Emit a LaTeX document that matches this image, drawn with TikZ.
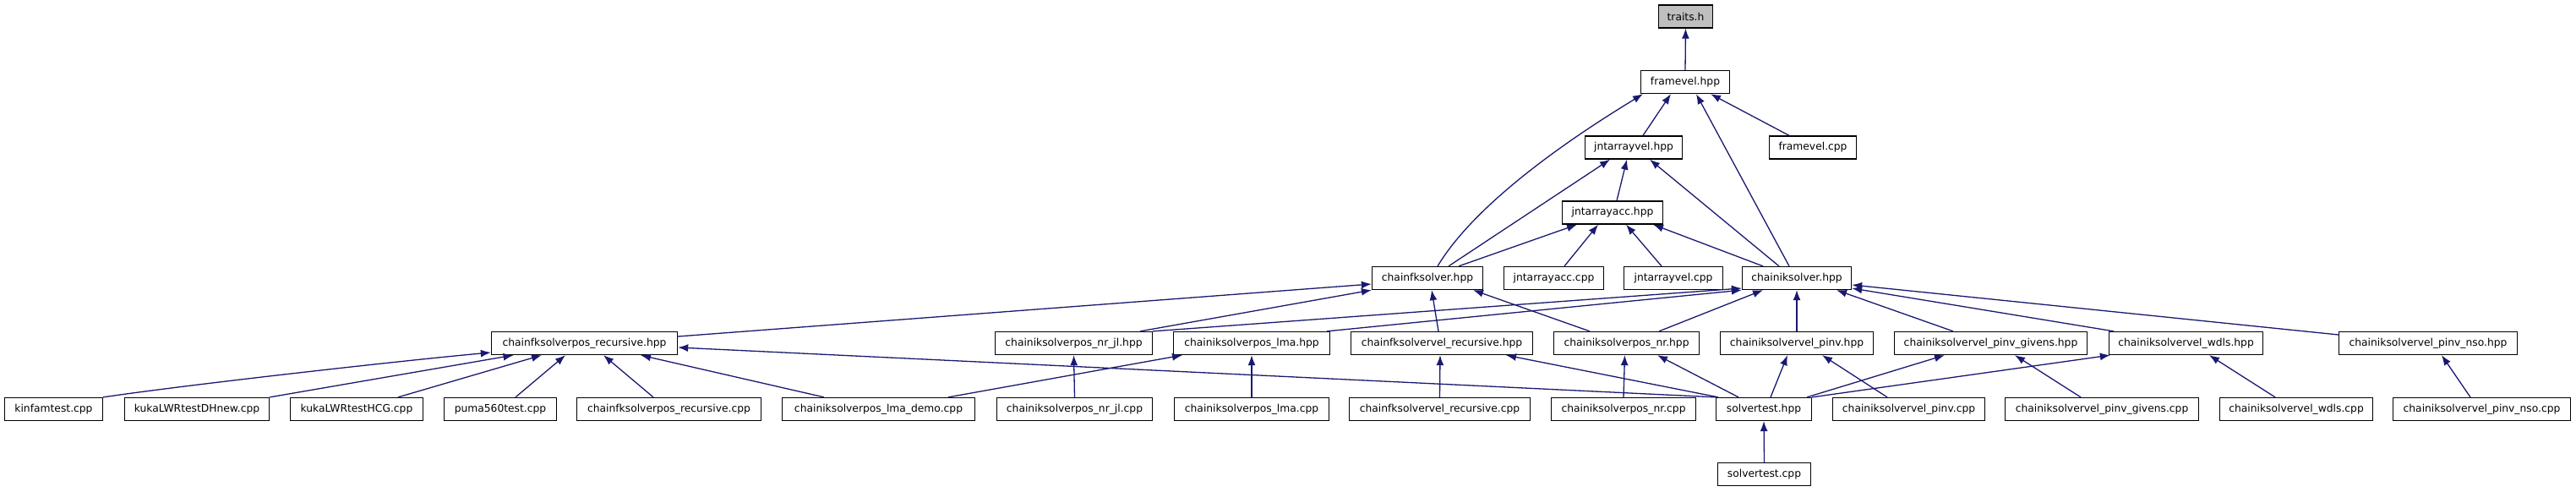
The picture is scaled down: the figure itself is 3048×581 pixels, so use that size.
\documentclass[tikz,border=0pt]{standalone}
\usepackage{fontspec}
\setmainfont{DejaVu Sans}
\usetikzlibrary{arrows.meta}
\definecolor{edgeblue}{HTML}{191970}
\definecolor{rootgray}{HTML}{BFBFBF}
\begin{document}
\begin{tikzpicture}[x=1pt,y=-1pt,
font=\fontsize{12.3}{14}\selectfont,
fileb/.style={draw=black,line width=1.3pt,fill=white,minimum height=27pt,inner xsep=2pt,inner ysep=0pt,anchor=center},
rootb/.style={fileb,fill=rootgray},
dep/.style={draw=edgeblue,line width=1.3pt,-{Latex[length=12pt,width=9pt]}}
]
\useasboundingbox (0,0) rectangle (3048,581);
%-- top of the graph
\node[rootb,minimum width=64pt](traits) at (1994.5,19.5){traits.h};
\node[fileb,minimum width=105pt](framevel) at (1994,97){framevel.hpp};
\node[fileb,minimum width=115pt](jntvel) at (1933,174.5){jntarrayvel.hpp};
\node[fileb,minimum width=103pt](framevelcpp) at (2145,174.5){framevel.cpp};
\node[fileb,minimum width=119pt](jntacc) at (1908,251.5){jntarrayacc.hpp};
%-- solvers
\node[fileb,minimum width=131pt](fksolver) at (1689,329){chainfksolver.hpp};
\node[fileb,minimum width=118pt](jntacccpp) at (1838.5,329){jntarrayacc.cpp};
\node[fileb,minimum width=117pt](jntvelcpp) at (1980,329){jntarrayvel.cpp};
\node[fileb,minimum width=129pt](iksolver) at (2126,329){chainiksolver.hpp};
%-- headers
\node[fileb,minimum width=220pt](fkposrec) at (691.5,406){chainfksolverpos\_recursive.hpp};
\node[fileb,minimum width=186pt](iknrjl) at (1270.5,406){chainiksolverpos\_nr\_jl.hpp};
\node[fileb,minimum width=185pt](iklma) at (1481,406){chainiksolverpos\_lma.hpp};
\node[fileb,minimum width=215pt](fkvelrec) at (1706,406){chainfksolvervel\_recursive.hpp};
\node[fileb,minimum width=172pt](iknr) at (1924.5,406){chainiksolverpos\_nr.hpp};
\node[fileb,minimum width=181pt](ikpinv) at (2126,406){chainiksolvervel\_pinv.hpp};
\node[fileb,minimum width=228pt](ikgivens) at (2355.5,406){chainiksolvervel\_pinv\_givens.hpp};
\node[fileb,minimum width=182pt](ikwdls) at (2586.5,406){chainiksolvervel\_wdls.hpp};
\node[fileb,minimum width=211pt](iknso) at (2873,406){chainiksolvervel\_pinv\_nso.hpp};
%-- sources
\node[fileb,minimum width=116pt](kinfam) at (63.5,484){kinfamtest.cpp};
\node[fileb,minimum width=171pt](kukadh) at (233,484){kukaLWRtestDHnew.cpp};
\node[fileb,minimum width=157pt](kukahcg) at (422,484){kukaLWRtestHCG.cpp};
\node[fileb,minimum width=133pt](puma) at (592,484){puma560test.cpp};
\node[fileb,minimum width=218pt](fkposreccpp) at (791.5,484){chainfksolverpos\_recursive.cpp};
\node[fileb,minimum width=228pt](lmademo) at (1039.5,484){chainiksolverpos\_lma\_demo.cpp};
\node[fileb,minimum width=184pt](iknrjlcpp) at (1271.5,484){chainiksolverpos\_nr\_jl.cpp};
\node[fileb,minimum width=183pt](iklmacpp) at (1481,484){chainiksolverpos\_lma.cpp};
\node[fileb,minimum width=214pt](fkvelreccpp) at (1703.5,484){chainfksolvervel\_recursive.cpp};
\node[fileb,minimum width=171pt](iknrcpp) at (1921,484){chainiksolverpos\_nr.cpp};
\node[fileb,minimum width=113pt](solvertest) at (2087,484){solvertest.hpp};
\node[fileb,minimum width=180pt](ikpinvcpp) at (2258.5,484){chainiksolvervel\_pinv.cpp};
\node[fileb,minimum width=229pt](ikgivenscpp) at (2487,484){chainiksolvervel\_pinv\_givens.cpp};
\node[fileb,minimum width=181pt](ikwdlscpp) at (2717,484){chainiksolvervel\_wdls.cpp};
\node[fileb,minimum width=210pt](iknsocpp) at (2936.5,484){chainiksolvervel\_pinv\_nso.cpp};
\node[fileb,minimum width=110pt](solvertestcpp) at (2087.5,561){solvertest.cpp};
%-- includes, upper part
\draw[dep] (framevel.north) -- (traits.south);
\draw[dep] ([xshift=11pt]jntvel.north) -- ([xshift=-17pt]framevel.south);
\draw[dep] ([xshift=12pt]fksolver.north) .. controls (1755,225) and (1904,136) .. ([xshift=-50pt]framevel.south);
\draw[dep] ([xshift=-9pt]iksolver.north) -- ([xshift=13pt]framevel.south);
\draw[dep] ([xshift=-28pt]framevelcpp.north) -- ([xshift=30pt]framevel.south);
\draw[dep] ([xshift=5pt]jntacc.north) -- ([xshift=-8pt]jntvel.south);
\draw[dep] ([xshift=25pt]fksolver.north) -- ([xshift=-28pt]jntvel.south);
\draw[dep] ([xshift=-21pt]iksolver.north) -- ([xshift=19pt]jntvel.south);
\draw[dep] ([xshift=37pt]fksolver.north) -- ([xshift=-42pt]jntacc.south);
\draw[dep] ([xshift=12.5pt]jntacccpp.north) -- ([xshift=-17pt]jntacc.south);
\draw[dep] ([xshift=-14pt]jntvelcpp.north) -- ([xshift=16pt]jntacc.south);
\draw[dep] ([xshift=-40pt]iksolver.north) -- ([xshift=48pt]jntacc.south);
%-- headers -> solvers
\draw[dep] ([yshift=8pt]fkposrec.east) -- ([yshift=-7pt]fksolver.west);
\draw[dep] ([xshift=78.5pt]iknrjl.north) -- (fksolver.south west);
\draw[dep] (iknrjl.north east) -- ([yshift=-12pt]iksolver.west);
\draw[dep] ([xshift=89pt]iklma.north) -- (iksolver.south west);
\draw[dep] ([xshift=-4pt]fkvelrec.north) -- ([xshift=5pt]fksolver.south);
\draw[dep] ([xshift=-43.5pt]iknr.north) -- ([xshift=54pt]fksolver.south);
\draw[dep] ([xshift=38.5pt]iknr.north) -- ([xshift=-40pt]iksolver.south);
\draw[dep] (ikpinv.north) -- (iksolver.south);
\draw[dep] ([xshift=-44.5pt]ikgivens.north) -- ([xshift=47pt]iksolver.south);
\draw[dep] ([xshift=-85.5pt]ikwdls.north) -- ([yshift=-12pt]iksolver.east);
\draw[dep] ([yshift=10pt]iknso.west) -- ([yshift=-8pt]iksolver.east);
%-- sources -> headers
\draw[dep] (kinfam.north east) .. controls (222,455) and (481,426) .. ([yshift=-11pt]fkposrec.west);
\draw[dep] (kukadh.north east) -- ([xshift=-84pt]fkposrec.south);
\draw[dep] ([xshift=49pt]kukahcg.north) -- ([xshift=-50.5pt]fkposrec.south);
\draw[dep] ([xshift=18pt]puma.north) -- ([xshift=-22.5pt]fkposrec.south);
\draw[dep] ([xshift=-18.5pt]fkposreccpp.north) -- ([xshift=22.5pt]fkposrec.south);
\draw[dep] ([xshift=-64.5pt]lmademo.north) -- ([xshift=66.5pt]fkposrec.south);
\draw[dep] ([xshift=82.5pt]lmademo.north) -- ([xshift=-82pt]iklma.south);
\draw[dep] (iknrjlcpp.north) -- (iknrjl.south);
\draw[dep] (iklmacpp.north) -- (iklma.south);
\draw[dep] (solvertest.north west) -- ([yshift=-5pt]fkposrec.east);
\draw[dep] (fkvelreccpp.north) -- ([xshift=-2pt]fkvelrec.south);
\draw[dep] ([xshift=-54pt]solvertest.north) -- ([xshift=76pt]fkvelrec.south);
\draw[dep] (iknrcpp.north) -- ([xshift=-2pt]iknr.south);
\draw[dep] ([xshift=-30pt]solvertest.north) -- ([xshift=36.5pt]iknr.south);
\draw[dep] ([xshift=8pt]solvertest.north) -- ([xshift=-11pt]ikpinv.south);
\draw[dep] ([xshift=-25.5pt]ikpinvcpp.north) -- ([xshift=30pt]ikpinv.south);
\draw[dep] ([xshift=51pt]solvertest.north) -- ([xshift=-54.5pt]ikgivens.south);
\draw[dep] (solvertest.north east) -- ([xshift=2pt]ikwdls.south west);
\draw[dep] ([xshift=-25pt]ikgivenscpp.north) -- ([xshift=28.5pt]ikgivens.south);
\draw[dep] ([xshift=-25pt]ikwdlscpp.north) -- ([xshift=27.5pt]ikwdls.south);
\draw[dep] ([xshift=-13.5pt]iknsocpp.north) -- ([xshift=16pt]iknso.south);
\draw[dep] (solvertestcpp.north) -- (solvertest.south);
\end{tikzpicture}
\end{document}
